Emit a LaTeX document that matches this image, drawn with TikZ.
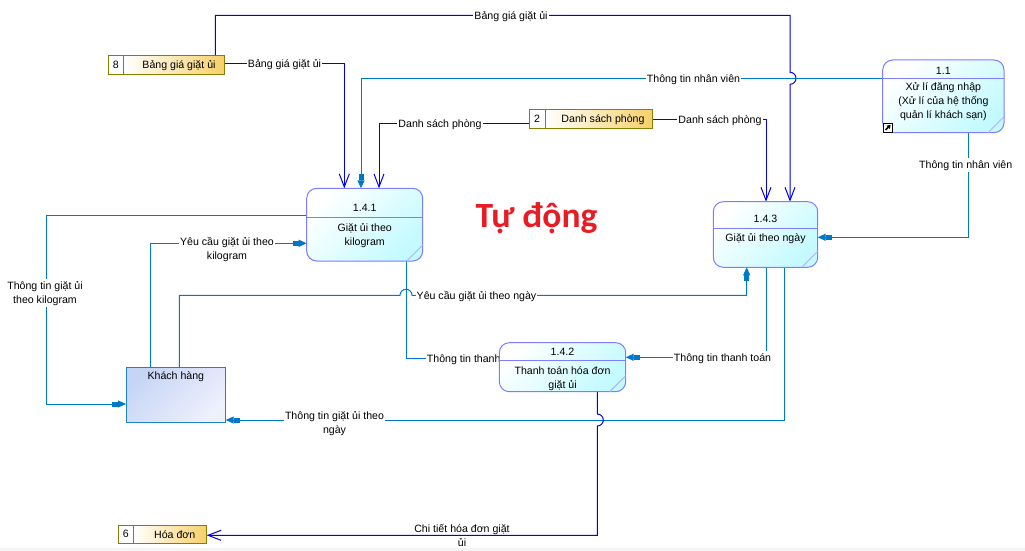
\documentclass[tikz,border=0pt]{standalone}
\usepackage{fontspec}
\setmainfont{Liberation Sans}
\newfontfamily\titlefont{Carlito}
\usetikzlibrary{arrows.meta}
\pgfdeclarelayer{bg}
\pgfdeclarelayer{conn}
\pgfsetlayers{bg,conn,main}
\definecolor{dkblue}{RGB}{0,0,235}
\definecolor{stblue}{RGB}{0,120,200}
\definecolor{procborder}{RGB}{125,125,255}
\definecolor{proccyan}{RGB}{195,250,255}
\definecolor{storeborder}{RGB}{135,125,0}
\definecolor{storegold}{RGB}{246,208,105}
\definecolor{entborder}{RGB}{30,130,200}
\definecolor{entA}{RGB}{198,213,245}
\definecolor{entB}{RGB}{238,240,252}
\definecolor{titlered}{RGB}{232,28,36}
\newcommand\lblfont{\fontsize{10.6pt}{13.6pt}\selectfont}
\begin{document}
\begin{tikzpicture}[x=1pt,y=-1pt,font=\lblfont,
  proc/.style={rectangle, rounded corners=10pt, draw=procborder, line width=1pt,
    top color=white, bottom color=proccyan, shading angle=45, inner sep=0pt, outer sep=0pt},
  procline/.style={draw=procborder, line width=1pt},
  fold/.style={draw=procborder!60, line width=1pt},
  ptext/.style={anchor=base, inner sep=0pt, font=\lblfont},
  store/.style={rectangle, draw=storeborder, line width=1pt, left color=white,
    right color=storegold, inner sep=0pt, outer sep=0pt},
  storenum/.style={rectangle, draw=storeborder, line width=1pt, fill=white,
    inner sep=0pt, outer sep=0pt, font=\lblfont},
  entity/.style={rectangle, draw=entborder, line width=1pt, top color=entA,
    bottom color=entB, shading angle=45, inner sep=0pt, outer sep=0pt},
  dkflow/.style={draw=dkblue, line width=1pt, -{Straight Barb[length=13pt,width=10pt]}},
  stflow/.style={draw=stblue, line width=1pt, -{Rectangle[length=6pt,width=5pt]Triangle[length=8pt,width=7pt]}},
  plainflow/.style={draw=stblue, line width=1pt},
  lbl/.style={fill=white, inner sep=1pt, text height=9pt, text depth=3pt, anchor=base, font=\lblfont},
  lblnf/.style={inner sep=1pt, anchor=base, font=\lblfont}]
\useasboundingbox (0,0) rectangle (1025,551);
\begin{pgfonlayer}{bg}
\fill[white] (0,0) rectangle (1025,551);
\fill[gray!8] (0,548) rectangle (1025,551);
\end{pgfonlayer}

% ---------- processes ----------
\node[proc, minimum width=121.3pt, minimum height=72.7pt] (p11) at (943.35,96.35) {};
\draw[procline] (p11.north west |- 0,78.3) -- (p11.north east |- 0,78.3);
\draw[fold] ([xshift=-16pt]p11.south east) -- ([yshift=16pt]p11.south east);
\node[ptext] (p11id) at (943.35,74.6) {1.1};
\node[ptext] (p11a) at (943.35,90) {Xử lí đăng nhập};
\node[ptext] (p11b) at (943.35,104) {(Xử lí của hệ thống};
\node[ptext] (p11c) at (943.35,118) {quản lí khách sạn)};
\draw[black, line width=0.8pt, fill=white] (883.2,123.2) rectangle (892.7,132.2);
\draw[black, line width=1.6pt, -{Triangle[length=3.5pt,width=4.5pt]}] (885.5,130) -- (890.6,124.9);

\node[proc, minimum width=116pt, minimum height=72.7pt] (p141) at (364.7,224.65) {};
\draw[procline] (p141.north west |- 0,217.3) -- (p141.north east |- 0,217.3);
\draw[fold] ([xshift=-16pt]p141.south east) -- ([yshift=16pt]p141.south east);
\node[ptext] (p141id) at (364.7,211.5) {1.4.1};
\node[ptext] (p141a) at (364.7,231.3) {Giặt ủi theo};
\node[ptext] (p141b) at (364.7,245) {kilogram};

\node[proc, minimum width=104.4pt, minimum height=65.6pt] (p143) at (765.5,234.5) {};
\draw[procline] (p143.north west |- 0,228.7) -- (p143.north east |- 0,228.7);
\draw[fold] ([xshift=-16pt]p143.south east) -- ([yshift=16pt]p143.south east);
\node[ptext] (p143id) at (765.5,222.2) {1.4.3};
\node[ptext] (p143a) at (765.5,241.3) {Giặt ủi theo ngày};

\node[proc, minimum width=126.4pt, minimum height=49pt] (p142) at (562.5,367.2) {};
\draw[procline] (p142.north west |- 0,360.3) -- (p142.north east |- 0,360.3);
\draw[fold] ([xshift=-16pt]p142.south east) -- ([yshift=16pt]p142.south east);
\node[ptext] (p142id) at (562.5,355.5) {1.4.2};
\node[ptext] (p142a) at (562.5,374.7) {Thanh toán hóa đơn};
\node[ptext] (p142b) at (562.5,388) {giặt ủi};

% ---------- entity ----------
\node[entity, minimum width=99.7pt, minimum height=55pt] (kh) at (175.85,394.8) {};
\node[ptext] (kht) at (175.85,379.5) {Khách hàng};

% ---------- stores ----------
\node[store, minimum width=101pt, minimum height=19pt] (s8) at (173.8,64.8) {};
\node[storenum, minimum width=15pt, minimum height=19pt] (s8n) at (115.8,64.8) {8};
\node[ptext] (s8t) at (179,68.6) {Bảng giá giặt ủi};

\node[store, minimum width=107pt, minimum height=19.5pt] (s2) at (598.5,118.75) {};
\node[storenum, minimum width=16pt, minimum height=19.5pt] (s2n) at (537,118.75) {2};
\node[ptext] (s2t) at (603,122.6) {Danh sách phòng};

\node[store, minimum width=73.4pt, minimum height=18pt] (s6) at (170,534.3) {};
\node[storenum, minimum width=15pt, minimum height=18pt] (s6n) at (125.8,534.3) {6};
\node[ptext] (s6t) at (174.7,538.2) {Hóa đơn};

% ---------- title ----------
\node[anchor=base, inner sep=0pt, text=titlered, font=\titlefont\bfseries\fontsize{35.5pt}{40pt}\selectfont] (title) at (536.5,227.5) {Tự động};

% ---------- connectors ----------
\begin{pgfonlayer}{conn}
\draw[dkflow] (215.3,0 |- s8.north) -- (215.3,15.3) -- (790,15.3) -- (790,72.3)
  arc[start angle=-90,end angle=90,radius=6] -- (790,0 |- p143.north);
\draw[dkflow] (s8.east |- 0,63.3) -- (344.3,63.3) -- (344.3,0 |- p141.north);
\draw[stflow] (p11.west |- 0,78.3) -- (361,78.3) -- (361,0 |- p141.north);
\draw[dkflow] (s2n.west |- 0,123.3) -- (379,123.3) -- (379,0 |- p141.north);
\draw[dkflow] (s2.east |- 0,119.3) -- (766,119.3) -- (766,0 |- p143.north);
\draw[stflow] (968.3,0 |- p11.south) -- (968.3,237.3) -- (p143.east |- 0,237.3);
\draw[stflow] (p141.west |- 0,215) -- (46,215) -- (46,404) -- (kh.west |- 0,404);
\draw[stflow] (150.3,0 |- kh.north) -- (150.3,243.3) -- (p141.west |- 0,243.3);
\draw[stflow] (179.3,0 |- kh.north) -- (179.3,295.3) -- (400,295.3)
  arc[start angle=180,end angle=360,radius=6] -- (746.7,295.3) -- (746.7,0 |- p143.south);
\draw[plainflow] (406,0 |- p141.south) -- (406,358.3) -- (p142.west |- 0,358.3);
\draw[stflow] (766.7,0 |- p143.south) -- (766.7,357.3) -- (p142.east |- 0,357.3);
\draw[stflow] (784.3,0 |- p143.south) -- (784.3,420) -- (kh.east |- 0,420);
\draw[dkflow] (597.3,0 |- p142.south) -- (597.3,414)
  arc[start angle=-90,end angle=90,radius=6] -- (597.3,535.3) -- (s6.east |- 0,535.3);

% labels
\node[lbl] (l1) at (511,19.3) {Bảng giá giặt ủi};
\node[lbl] (l2) at (284.5,67.3) {Bảng giá giặt ủi};
\node[lbl] (l3) at (693.5,82.3) {Thông tin nhân viên};
\node[lbl] (l4) at (440,127.3) {Danh sách phòng};
\node[lbl] (l5) at (720,123.3) {Danh sách phòng};
\node[lbl] (l6) at (965.7,168) {Thông tin nhân viên};
\node[lbl] (l7a) at (45,289.3) {Thông tin giặt ủi};
\node[lbl] (l7b) at (45,303.3) {theo kilogram};
\node[lbl] (l8a) at (227,245.7) {Yêu cầu giặt ủi theo};
\node[lbl] (l8b) at (227,259) {kilogram};
\node[lbl] (l9) at (476.5,299.3) {Yêu cầu giặt ủi theo ngày};
\node[lbl] (l10) at (475.5,362.3) {Thông tin thanh toán};
\node[lbl] (l11) at (722.5,361.3) {Thông tin thanh toán};
\node[lbl] (l12a) at (334.5,419) {Thông tin giặt ủi theo};
\node[lbl] (l12b) at (334.5,433) {ngày};
\node[lblnf] (l13a) at (462,532) {Chi tiết hóa đơn giặt};
\node[lblnf] (l13b) at (462,546.7) {ủi};
\end{pgfonlayer}
\end{tikzpicture}
\end{document}
